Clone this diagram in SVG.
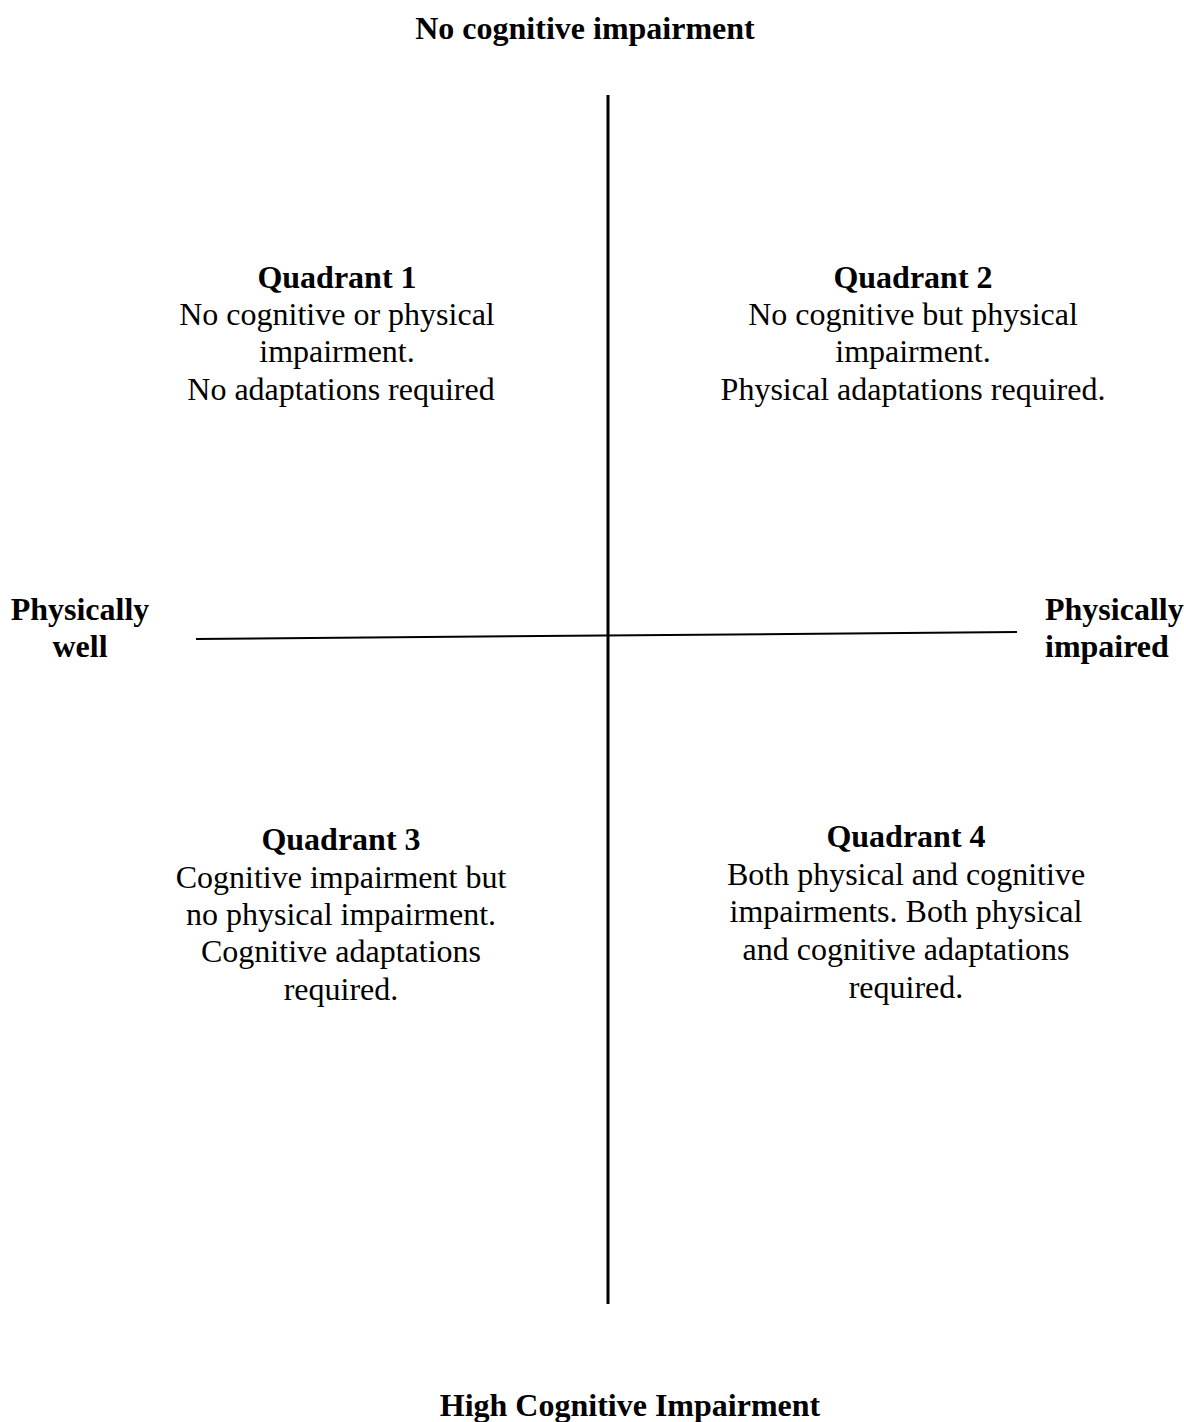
<svg xmlns="http://www.w3.org/2000/svg" width="1184" height="1422" viewBox="0 0 1184 1422">
<style>
text{font-family:"Liberation Serif","Times New Roman",serif;font-size:32px;fill:#000}
.b{font-weight:bold}
.c{text-anchor:middle}
.ax{stroke:#000;fill:none}
</style>
<rect width="1184" height="1422" fill="#fff"/>
<g id="connectors">
<line class="ax" x1="608" y1="95" x2="608" y2="1304" stroke-width="3"/>
<line class="ax" x1="196" y1="639" x2="1017" y2="632" stroke-width="2"/>
</g>
<g id="top-label"><text class="b c" x="585" y="39">No cognitive impairment</text></g>
<g id="bottom-label"><text class="b c" x="630" y="1416">High Cognitive Impairment</text></g>
<g id="left-label">
<text class="b c" x="80" y="620">Physically</text>
<text class="b c" x="80" y="657">well</text>
</g>
<g id="right-label">
<text class="b" x="1045" y="620">Physically</text>
<text class="b" x="1045" y="657">impaired</text>
</g>
<g id="quadrant1" class="c">
<text class="b c" x="337" y="288">Quadrant 1</text>
<text class="c" x="337" y="325">No cognitive or physical</text>
<text class="c" x="337" y="362">impairment.</text>
<text class="c" x="341" y="400">No adaptations required</text>
</g>
<g id="quadrant2">
<text class="b c" x="913" y="288">Quadrant 2</text>
<text class="c" x="913" y="325">No cognitive but physical</text>
<text class="c" x="913" y="362">impairment.</text>
<text class="c" x="913" y="400">Physical adaptations required.</text>
</g>
<g id="quadrant3">
<text class="b c" x="341" y="850">Quadrant 3</text>
<text class="c" x="341" y="888">Cognitive impairment but</text>
<text class="c" x="341" y="925">no physical impairment.</text>
<text class="c" x="341" y="962">Cognitive adaptations</text>
<text class="c" x="341" y="1000">required.</text>
</g>
<g id="quadrant4">
<text class="b c" x="906" y="847">Quadrant 4</text>
<text class="c" x="906" y="885">Both physical and cognitive</text>
<text class="c" x="906" y="922">impairments. Both physical</text>
<text class="c" x="906" y="960">and cognitive adaptations</text>
<text class="c" x="906" y="998">required.</text>
</g>
</svg>
